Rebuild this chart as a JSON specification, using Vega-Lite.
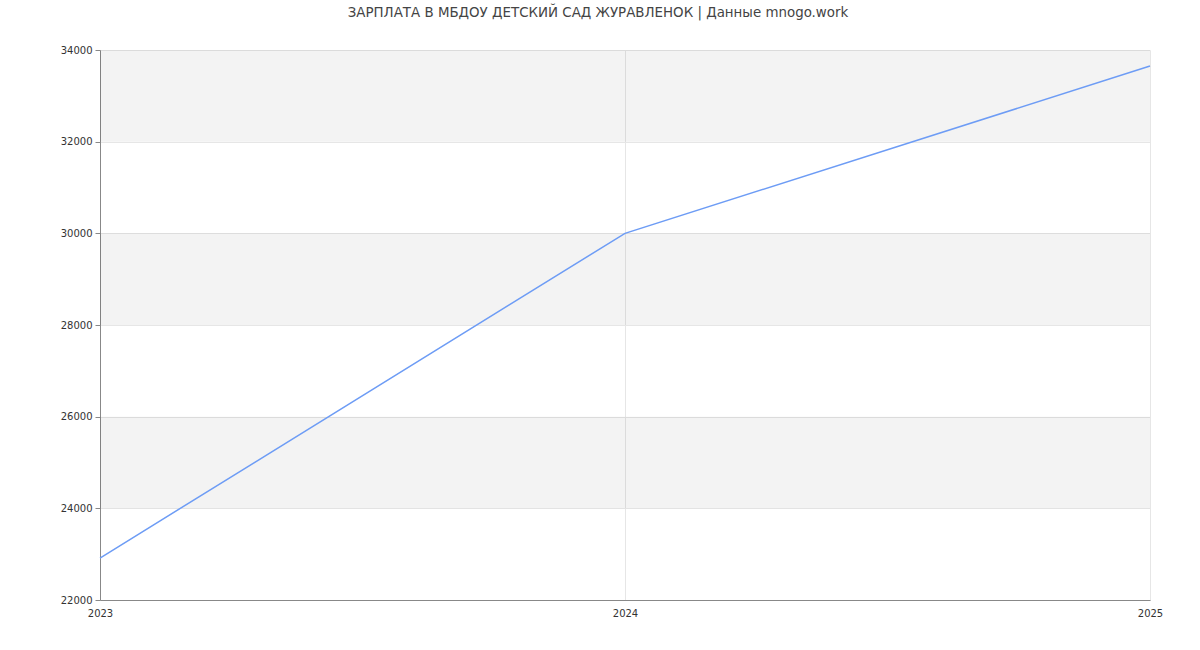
{
  "$schema": "https://vega.github.io/schema/vega-lite/v6.json",
  "width": 1050,
  "height": 550,
  "autosize": {"type": "none"},
  "padding": {"left": 100, "top": 50, "right": 50, "bottom": 50},
  "background": "white",
  "title": {
    "text": "ЗАРПЛАТА В МБДОУ ДЕТСКИЙ САД ЖУРАВЛЕНОК | Данные mnogo.work",
    "font": "DejaVu Sans",
    "fontSize": 13.4,
    "fontWeight": "normal",
    "color": "#444444",
    "anchor": "middle",
    "dx": -27,
    "offset": 26
  },
  "config": {
    "view": {"stroke": null},
    "axis": {
      "labelFont": "DejaVu Sans",
      "labelFontSize": 10,
      "labelColor": "#333333",
      "gridColor": "#e6e6e6",
      "gridWidth": 1,
      "domainColor": "#888888",
      "tickColor": "#888888",
      "labelFlush": false,
      "labelOverlap": false,
      "zindex": 0,
      "title": null
    }
  },
  "datasets": {
    "bands": [
      {"lo": 24000, "hi": 26000},
      {"lo": 28000, "hi": 30000},
      {"lo": 32000, "hi": 34000}
    ],
    "salary": [
      {"year": 2023, "salary": 22916},
      {"year": 2024, "salary": 30000},
      {"year": 2025, "salary": 33650}
    ]
  },
  "layer": [
    {
      "data": {"name": "bands"},
      "mark": {"type": "rect", "color": "#000000", "opacity": 0.047},
      "encoding": {
        "y": {
          "field": "lo",
          "type": "quantitative",
          "scale": {"domain": [22000, 34000], "nice": false, "zero": false},
          "axis": {"tickCount": 6, "format": "d", "tickSize": 5, "labelPadding": 3, "grid": true}
        },
        "y2": {"field": "hi"}
      }
    },
    {
      "data": {"name": "salary"},
      "mark": {"type": "line", "color": "#6d9cf5", "strokeWidth": 1.5},
      "encoding": {
        "x": {
          "field": "year",
          "type": "quantitative",
          "scale": {"domain": [2023, 2025], "nice": false, "zero": false},
          "axis": {"tickCount": 2, "format": "d", "tickSize": 0, "labelPadding": 8, "grid": true}
        },
        "y": {
          "field": "salary",
          "type": "quantitative",
          "scale": {"domain": [22000, 34000], "nice": false, "zero": false},
          "axis": {"tickCount": 6, "format": "d", "tickSize": 5, "labelPadding": 3, "grid": true}
        }
      }
    }
  ]
}
